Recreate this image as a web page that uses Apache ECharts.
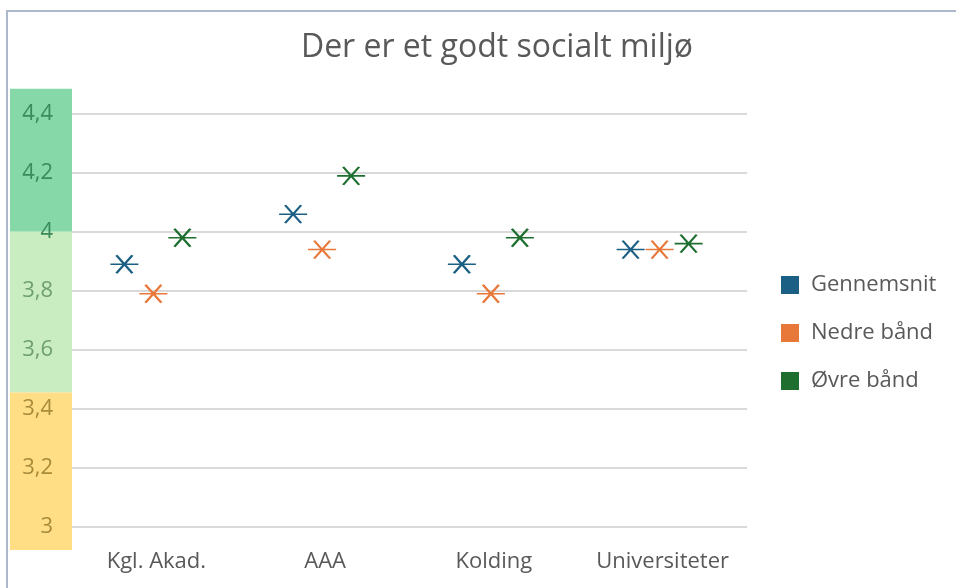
<!DOCTYPE html>
<html>
<head>
<meta charset="utf-8">
<script src="https://cdn.jsdelivr.net/npm/echarts@6/dist/echarts.min.js"></script>
<style>
  html, body { margin: 0; padding: 0; background: #fff; }
  #chart { width: 956px; height: 588px; }
</style>
</head>
<body>
<div id="chart"></div>
<script>
// data
const categories = ["Kgl. Akad.", "AAA", "Kolding", "Universiteter"];
const gennemsnit = [3.89, 4.06, 3.89, 3.94];
const nedreBaand = [3.79, 3.94, 3.79, 3.94];
const oevreBaand = [3.98, 4.19, 3.98, 3.96];
const yMin = 3, yMax = 4.4, yStep = 0.2;
// colour zones behind the y labels (value ranges)
const zones = [
  { from: 4.0, to: 4.486, color: "#86d8a9", text: "#3b8a5b" },
  { from: 3.455, to: 4.0, color: "#c9ecc0", text: "#6e9f70" },
  { from: 2.92, to: 3.455, color: "#ffde86", text: "#a88c3a" }
];

const colors = ["#1b5f84", "#e8773a", "#1e6f2f"];
// asterisk without the vertical stroke
const star = "path://M0,9 L28,9 M6,0 L22,18 M22,0 L6,18";
const font = "'Open Sans', 'Noto Sans', sans-serif";

function zoneOf(v) {
  for (const z of zones) if (v >= z.from - 1e-6 && v <= z.to + 1e-6) return z;
  return zones[zones.length - 1];
}

function markSeries(name, data, i, dx) {
  return {
    name: name,
    type: "scatter",
    data: data,
    symbol: star,
    symbolSize: [28, 18],
    symbolOffset: [dx, 0],
    itemStyle: { color: colors[i], borderColor: colors[i], borderWidth: 2, opacity: 1 },
    z: 5
  };
}

const chart = echarts.init(document.getElementById("chart"));

const option = {
  animation: false,
  title: {
    text: "Der er et godt socialt miljø",
    left: 492,
    textAlign: "center",
    top: 27,
    textStyle: { fontFamily: font, fontSize: 32, fontWeight: "normal", color: "#595959" }
  },
  legend: {
    orient: "vertical",
    left: 776,
    top: 269,
    itemWidth: 18,
    itemHeight: 18,
    itemGap: 26,
    icon: "rect",
    itemStyle: { borderWidth: 0 },
    textStyle: { fontFamily: font, fontSize: 22, color: "#595959", padding: [0, 0, 0, 7] },
    data: ["Gennemsnit", "Nedre bånd", "Øvre bånd"]
  },
  grid: { left: 72, right: 209, top: 114, bottom: 61.5, containLabel: false },
  xAxis: {
    type: "category",
    data: categories,
    axisLine: { show: false },
    axisTick: { show: false },
    axisLabel: { interval: 0, fontFamily: font, fontSize: 22, color: "#595959", margin: 24 }
  },
  yAxis: {
    type: "value",
    min: yMin,
    max: yMax,
    interval: yStep,
    axisLine: { show: false },
    axisTick: { show: false },
    splitLine: { lineStyle: { color: "#d9d9d9", width: 2 } },
    axisLabel: {
      fontFamily: font,
      fontSize: 22,
      margin: 19,
      formatter: v => String(+v.toFixed(1)).replace(".", ","),
      color: v => zoneOf(+v).text
    }
  },
  series: [
    markSeries("Gennemsnit", gennemsnit, 0, -32),
    markSeries("Nedre bånd", nedreBaand, 1, -3),
    markSeries("Øvre bånd", oevreBaand, 2, 26)
  ]
};

chart.setOption(option);

// frame and colour zones, placed through the y axis scale
const graphics = [{
  type: "rect",
  shape: { x: 7, y: 11, width: 1000, height: 700 },
  style: { fill: "none", stroke: "#adb9ca", lineWidth: 2 },
  silent: true,
  z: -10
}];
zones.forEach(z => {
  const y1 = chart.convertToPixel({ yAxisIndex: 0 }, z.to);
  const y2 = chart.convertToPixel({ yAxisIndex: 0 }, z.from);
  graphics.push({
    type: "rect",
    shape: { x: 10, y: y1, width: 62, height: y2 - y1 },
    style: { fill: z.color },
    silent: true,
    z: -5
  });
});
chart.setOption({ graphic: graphics });
</script>
</body>
</html>
